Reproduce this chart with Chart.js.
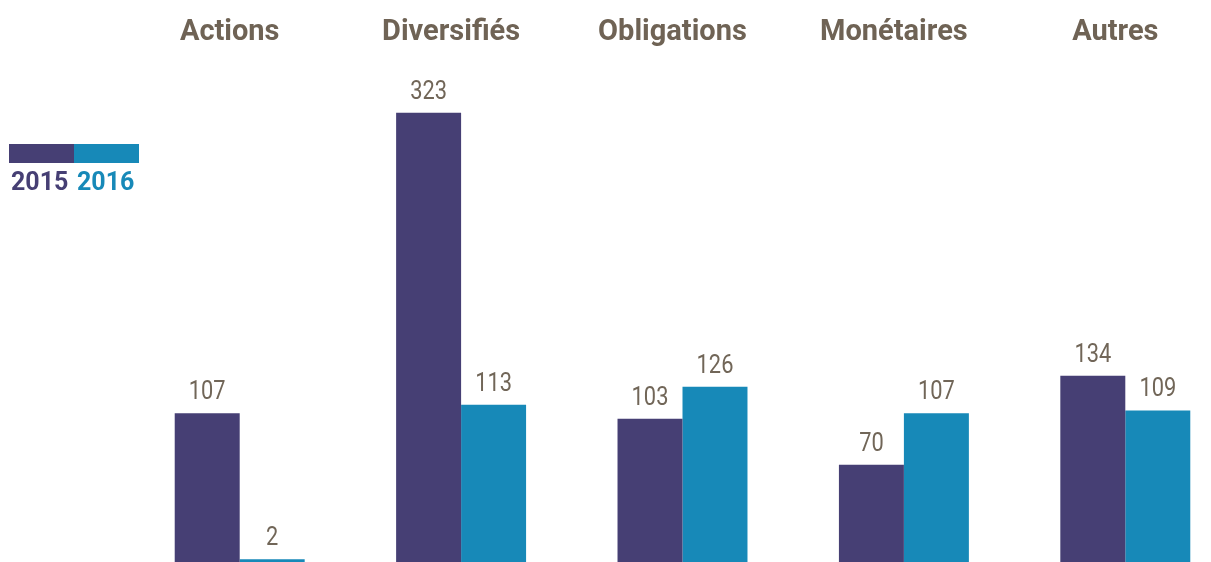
<!DOCTYPE html>
<html>
<head>
<meta charset="utf-8">
<script src="https://cdn.jsdelivr.net/npm/chart.js@4"></script>
<style>
  html, body { margin: 0; padding: 0; background: #fff; overflow: hidden; }
  #wrap { width: 1211px; height: 562px; overflow: hidden; }
</style>
</head>
<body>
<div id="wrap"><canvas id="fonds" width="1236" height="562"></canvas></div>
<script>
// Données du graphique
const categories = ['Actions', 'Diversifiés', 'Obligations', 'Monétaires', 'Autres'];
const values2015 = [107, 323, 103, 70, 134];
const values2016 = [2, 113, 126, 107, 109];
const seriesLabels = ['2015', '2016'];

const purple = '#463F74';
const blue = '#1789B8';
const textColor = '#716658';

// Valeurs au-dessus des barres
const valueLabels = {
    id: 'valueLabels',
    afterDatasetsDraw(chart) {
        const ctx = chart.ctx;
        ctx.save();
        ctx.fillStyle = textColor;
        ctx.font = '400 26px Roboto';
        ctx.textAlign = 'center';
        ctx.textBaseline = 'alphabetic';
        chart.data.datasets.forEach((ds, i) => {
            chart.getDatasetMeta(i).data.forEach((bar, j) => {
                ctx.save();
                ctx.translate(bar.x, bar.y - 14);
                ctx.scale(0.84, 1);
                ctx.fillText(String(ds.data[j]), 0, 0);
                ctx.restore();
            });
        });
        ctx.restore();
    }
};

// Légende à gauche (deux blocs de couleur + années)
const sideLegend = {
    id: 'sideLegend',
    afterDraw(chart) {
        const ctx = chart.ctx;
        ctx.save();
        ctx.fillStyle = purple;
        ctx.fillRect(9, 144, 65, 19);
        ctx.fillStyle = blue;
        ctx.fillRect(74, 144, 65, 19);
        ctx.font = 'bold 25px Roboto';
        ctx.textBaseline = 'alphabetic';
        ctx.textAlign = 'left';
        ctx.fillStyle = purple;
        ctx.fillText(seriesLabels[0], 11, 190);
        ctx.fillStyle = blue;
        ctx.fillText(seriesLabels[1], 77, 190);
        ctx.restore();
    }
};

const ctx = document.getElementById('fonds').getContext('2d');
new Chart(ctx, {
    type: 'bar',
    data: {
        labels: categories,
        datasets: [
            { label: seriesLabels[0], data: values2015, backgroundColor: purple, borderWidth: 0 },
            { label: seriesLabels[1], data: values2016, backgroundColor: blue, borderWidth: 0 }
        ]
    },
    options: {
        responsive: false,
        animation: false,
        layout: { padding: { left: 129, right: 0, top: 7, bottom: 0 } },
        datasets: {
            bar: { categoryPercentage: 0.587, barPercentage: 1.0 }
        },
        scales: {
            x: {
                position: 'top',
                grid: { display: false, drawTicks: false },
                border: { display: false },
                ticks: {
                    color: '#6F6355',
                    font: { family: 'Roboto', weight: 'bold', size: 29 },
                    padding: 8,
                    labelOffset: -10,
                    maxRotation: 0
                }
            },
            y: {
                display: false,
                min: 0,
                max: 362.6
            }
        },
        plugins: {
            legend: { display: false },
            tooltip: { enabled: false }
        }
    },
    plugins: [valueLabels, sideLegend]
});
</script>
</body>
</html>
